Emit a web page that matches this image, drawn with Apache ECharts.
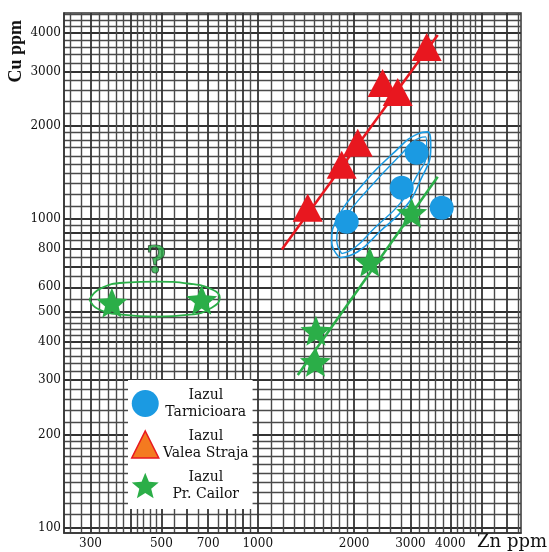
<!DOCTYPE html>
<html>
<head>
<meta charset="utf-8">
<script src="https://cdn.jsdelivr.net/npm/echarts@6/dist/echarts.min.js"></script>
<style>
  html, body { margin: 0; padding: 0; background: #fff; }
  #chart { width: 549px; height: 552px; }
</style>
</head>
<body>
<div id="chart"></div>
<script>
// tick labels
const xLabels = [300, 500, 700, 1000, 2000, 3000, 4000];
const yLabels = [100, 200, 300, 400, 500, 600, 800, 1000, 2000, 3000, 4000];

// [Zn ppm, Cu ppm]
const tarnicioara = [[1897, 978], [2818, 1260], [3139, 1635], [3758, 1085]];
const valeaStraja = [[1433, 1085], [1830, 1496], [2054, 1762], [2456, 2755], [2738, 2576], [3374, 3603]];
const prCailor = [[350, 535], [668, 547], [1515, 344], [1520, 434], [2239, 726], [3027, 1045]];

// hand drawn trend lines
const redTrend = [[1189, 795], [3652, 3937]];
const greenTrend = [[1334, 312], [3652, 1368]];

// hand drawn enclosures
const blueLoopOuter = [[1803, 748], [1702, 843], [1778, 1007], [2113, 1279], [2680, 1647], [3162, 1884],
  [3398, 1912], [3473, 1698], [3208, 1318], [2879, 1085], [2405, 908], [2054, 782], [1803, 748]];
const blueLoopInner = [[1830, 771], [1765, 855], [1857, 993], [2207, 1241], [2778, 1599], [3208, 1828],
  [3350, 1842], [3374, 1672], [3095, 1337], [2778, 1118], [2322, 935], [2010, 806], [1830, 771]];
const greenLoop = [[298, 547], [321, 593], [384, 621], [483, 626], [613, 616], [723, 589], [761, 555],
  [718, 515], [613, 489], [483, 482], [376, 489], [316, 511], [298, 547]];
const questionMark = [[483, 722]];

// log paper rulings (mantissas per decade)
const paperDecades = [10, 100, 1000];
const majorMant = [1, 2, 3, 4, 5, 6, 7, 8, 9];
const minorMant = [1.1, 1.2, 1.3, 1.4, 1.5, 1.6, 1.7, 1.8, 1.9, 2.2, 2.4, 2.6, 2.8, 3.2, 3.4, 3.6, 3.8,
  4.2, 4.4, 4.6, 4.8, 5.5, 6.5, 7.5, 8.5, 9.5];

function rulings(mant) {
  const out = [];
  paperDecades.forEach(d => mant.forEach(m => out.push(+(d * m).toFixed(3))));
  return out;
}

const BLUE = '#1b9ae2';
const RED = '#e8171f';
const GREEN = '#2bae48';
const STAR = 'path://M50,2 L62.93,34.2 L97.55,36.55 L70.92,58.8 L79.39,92.45 L50,74 L20.61,92.45 L29.08,58.8 L2.45,36.55 L37.07,34.2 Z';
const FONT = 'DejaVu Serif';

const X_MIN = 248, X_MAX = 6650, Y_MIN = 96, Y_MAX = 4640;

function paperAxis(extra) {
  return Object.assign({
    type: 'log',
    logBase: 10,
    axisLine: { show: false },
    axisTick: { show: false, customValues: rulings(majorMant) },
    axisLabel: { show: false },
    splitLine: { show: true, lineStyle: { color: '#333', width: 1.8 } },
    minorTick: { show: false },
    silent: true
  }, extra);
}

const chart = echarts.init(document.getElementById('chart'));
chart.setOption({
  animation: false,
  backgroundColor: '#fff',
  grid: { left: 64, right: 28, top: 13, bottom: 19, show: true, borderColor: '#333', borderWidth: 1.5 },
  xAxis: [
    {
      type: 'log', logBase: 10, min: X_MIN, max: X_MAX,
      axisLine: { show: true, lineStyle: { color: '#333', width: 1.5 } },
      axisTick: { show: false, customValues: rulings(minorMant) },
      axisLabel: { customValues: xLabels, margin: 5, color: '#111', fontFamily: FONT, fontSize: 12,
        formatter: v => String(Math.round(v)) },
      splitLine: { show: true, lineStyle: { color: '#4a4a4a', width: 1.4 } }
    },
    paperAxis({ min: X_MIN, max: X_MAX, position: 'top' })
  ],
  yAxis: [
    {
      type: 'log', logBase: 10, min: Y_MIN, max: Y_MAX,
      axisLine: { show: true, lineStyle: { color: '#333', width: 1.5 } },
      axisTick: { show: false, customValues: rulings(minorMant) },
      axisLabel: { customValues: yLabels, margin: 3, color: '#111', fontFamily: FONT, fontSize: 12,
        formatter: v => String(Math.round(v)) },
      splitLine: { show: true, lineStyle: { color: '#4a4a4a', width: 1.4 } }
    },
    paperAxis({ min: Y_MIN, max: Y_MAX, position: 'right' })
  ],
  legend: {
    orient: 'vertical',
    left: 128, top: 380,
    padding: [8, 4, 8, 3],
    backgroundColor: '#fff',
    itemWidth: 27, itemHeight: 27, itemGap: 10,
    formatter: name => {
      const i = name.indexOf(' ');
      return '{c|' + name.slice(0, i) + '}\n{c|' + name.slice(i + 1) + '}';
    },
    textStyle: {
      color: '#111',
      rich: { c: { width: 84, align: 'center', fontFamily: FONT, fontSize: 14, lineHeight: 17, color: '#111' } }
    },
    data: [
      { name: 'Iazul Tarnicioara', icon: 'circle', itemStyle: { color: BLUE } },
      { name: 'Iazul Valea Straja', icon: 'triangle', itemStyle: { color: '#f47a20', borderColor: RED, borderWidth: 1.5 } },
      { name: 'Iazul Pr. Cailor', icon: STAR, itemStyle: { color: GREEN } }
    ]
  },
  graphic: [
    { type: 'text', left: 7, top: 20, rotation: Math.PI / 2,
      style: { text: 'Cu ppm', font: 'bold 18px "Liberation Serif"', fill: '#111' } },
    { type: 'text', right: 2, top: 533,
      style: { text: 'Zn ppm', font: '18px "DejaVu Serif"', fill: '#111' } }
  ],
  series: [
    { type: 'line', name: 'redTrend', data: redTrend, symbol: 'none', silent: true,
      lineStyle: { color: RED, width: 2.5 }, z: 3 },
    { type: 'line', name: 'greenTrend', data: greenTrend, symbol: 'none', silent: true,
      lineStyle: { color: GREEN, width: 2.5 }, z: 3 },
    { type: 'line', name: 'blueLoopOuter', data: blueLoopOuter, symbol: 'none', smooth: 0.5, silent: true,
      lineStyle: { color: BLUE, width: 1.6 }, z: 3 },
    { type: 'line', name: 'blueLoopInner', data: blueLoopInner, symbol: 'none', smooth: 0.5, silent: true,
      lineStyle: { color: BLUE, width: 1.4 }, z: 3 },
    { type: 'line', name: 'greenLoop', data: greenLoop, symbol: 'none', smooth: 0.5, silent: true,
      lineStyle: { color: GREEN, width: 1.8 }, z: 3 },
    { type: 'scatter', name: 'Iazul Tarnicioara', data: tarnicioara, symbol: 'circle', symbolSize: 24,
      itemStyle: { color: BLUE, opacity: 1 }, z: 5 },
    { type: 'scatter', name: 'Iazul Valea Straja', data: valeaStraja, symbol: 'triangle', symbolSize: [30, 28],
      itemStyle: { color: RED, opacity: 1 }, z: 5 },
    { type: 'scatter', name: 'Iazul Pr. Cailor', data: prCailor, symbol: STAR, symbolSize: [31, 30],
      itemStyle: { color: GREEN, opacity: 1 }, z: 5 },
    { type: 'scatter', name: 'question', data: questionMark, symbolSize: 0, silent: true,
      label: { show: true, position: 'inside', formatter: '?', fontFamily: 'Liberation Serif', fontWeight: 'bold',
        fontSize: 42, color: GREEN, textBorderColor: '#222', textBorderWidth: 1.2 }, z: 6 }
  ]
});
</script>
</body>
</html>
